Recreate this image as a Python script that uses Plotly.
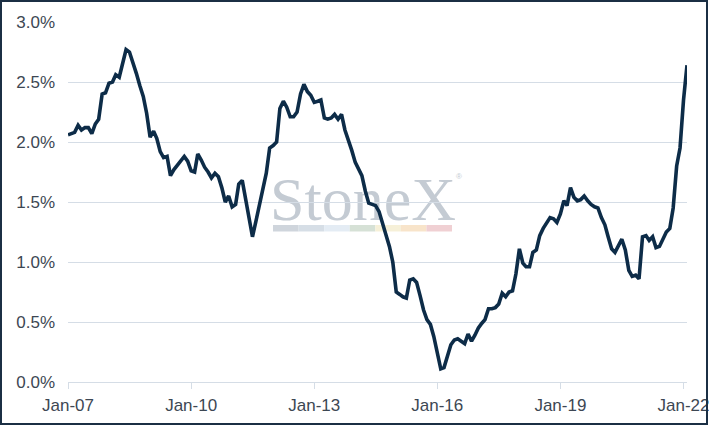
import pandas as pd
import plotly.graph_objects as go

# monthly values, Jan-07 .. Feb-22 (%)
v2007 = [2.06, 2.07, 2.08, 2.14, 2.10, 2.12, 2.12, 2.07, 2.15, 2.19, 2.40, 2.41]
v2008 = [2.49, 2.50, 2.56, 2.54, 2.66, 2.77, 2.75, 2.67, 2.57, 2.47, 2.38, 2.24]
v2009 = [2.04, 2.09, 2.03, 1.92, 1.87, 1.88, 1.72, 1.77, 1.81, 1.84, 1.88, 1.84]
v2010 = [1.76, 1.75, 1.90, 1.85, 1.79, 1.75, 1.70, 1.74, 1.71, 1.62, 1.50, 1.55]
v2011 = [1.46, 1.48, 1.65, 1.68, 1.52, 1.35, 1.21, 1.34, 1.48, 1.60, 1.74, 1.95]
v2012 = [1.97, 2.00, 2.28, 2.34, 2.29, 2.21, 2.21, 2.25, 2.40, 2.48, 2.42, 2.39]
v2013 = [2.33, 2.34, 2.35, 2.20, 2.19, 2.20, 2.23, 2.19, 2.23, 2.10, 2.02, 1.93]
v2014 = [1.83, 1.77, 1.72, 1.59, 1.49, 1.48, 1.47, 1.42, 1.32, 1.22, 1.13, 1.00]
v2015 = [0.75, 0.73, 0.71, 0.70, 0.85, 0.86, 0.83, 0.72, 0.60, 0.52, 0.48, 0.38]
v2016 = [0.25, 0.11, 0.12, 0.21, 0.31, 0.35, 0.36, 0.34, 0.32, 0.40, 0.34, 0.39]
v2017 = [0.45, 0.49, 0.52, 0.61, 0.61, 0.62, 0.65, 0.74, 0.71, 0.75, 0.76, 0.90]
v2018 = [1.11, 0.99, 0.96, 0.96, 1.08, 1.10, 1.22, 1.28, 1.33, 1.37, 1.36, 1.33]
v2019 = [1.40, 1.51, 1.47, 1.62, 1.54, 1.51, 1.52, 1.55, 1.51, 1.48, 1.46, 1.45]
v2020 = [1.37, 1.31, 1.21, 1.11, 1.08, 1.14, 1.19, 1.10, 0.93, 0.88, 0.89, 0.86]
v2021 = [1.21, 1.22, 1.18, 1.21, 1.12, 1.13, 1.19, 1.25, 1.28, 1.45, 1.80, 1.95]
v2022 = [2.35, 2.64]

values = (v2007 + v2008 + v2009 + v2010 + v2011 + v2012 + v2013 + v2014
          + v2015 + v2016 + v2017 + v2018 + v2019 + v2020 + v2021 + v2022)
dates = pd.date_range("2007-01-01", periods=len(values), freq="MS")
vals = [v / 100 for v in values]

tick_dates = ["2007-01-01", "2010-01-01", "2013-01-01", "2016-01-01", "2019-01-01", "2022-01-01"]
tick_text = ["Jan-07", "Jan-10", "Jan-13", "Jan-16", "Jan-19", "Jan-22"]

# watermark bar colours
bar_colors = ["#cfd5dc", "#d6dee6", "#e4ecf4", "#d6e1d6", "#f6f0d8", "#f8e4ca", "#f0d0d3"]

W, H = 709, 426
L, R, T, B = 68, 22, 22, 44
pw, ph = W - L - R, H - T - B


def px(p):
    return (p - L) / pw


def py(p):
    return (H - B - p) / ph


text_col = "#3d4753"
wm_col = "#c4cbd3"

fig = go.Figure()
fig.add_trace(go.Scatter(x=dates, y=vals, mode="lines",
                         line=dict(color="#0d2c48", width=3.6), hoverinfo="skip"))

shapes = []
# StoneX watermark
shapes.append(dict(type="rect", xref="paper", yref="paper", layer="below",
                   x0=px(270), x1=px(456), y0=py(216), y1=py(168),
                   line=dict(width=0), fillcolor="rgba(0,0,0,0)",
                   label=dict(text="StoneX", textposition="middle center",
                              font=dict(family="Liberation Serif", size=62, color=wm_col))))
seg = (452 - 273) / len(bar_colors)
for i, c in enumerate(bar_colors):
    shapes.append(dict(type="rect", xref="paper", yref="paper", layer="below",
                       x0=px(273 + i * seg), x1=px(273 + (i + 1) * seg),
                       y0=py(231.5), y1=py(225),
                       line=dict(width=0), fillcolor=c))
# outer frame
shapes.append(dict(type="rect", xref="paper", yref="paper",
                   x0=px(1), x1=px(707), y0=py(424), y1=py(1),
                   line=dict(color="#1b2f44", width=2)))

fig.update_layout(
    width=W, height=H,
    margin=dict(l=L, r=R, t=T, b=B, autoexpand=False),
    paper_bgcolor="white", plot_bgcolor="white",
    showlegend=False,
    font=dict(family="Liberation Sans, Arial", size=17, color=text_col),
    shapes=shapes,
    annotations=[dict(text="®", xref="paper", yref="paper", x=px(459), y=py(176),
                      showarrow=False, font=dict(size=8, color=wm_col))],
    xaxis=dict(
        type="date", range=["2007-01-01", "2022-02-01"],
        tickvals=tick_dates, ticktext=tick_text,
        showgrid=False, zeroline=False,
        showline=True, linecolor="#d5dde6", linewidth=1,
        ticks="outside", ticklen=6, tickcolor="#d5dde6",
        ticklabelstandoff=2, automargin=False,
        ticklabeloverflow="allow",
    ),
    yaxis=dict(
        range=[0, 0.03], dtick=0.005, tickformat=".1%",
        showgrid=True, gridcolor="#d5dde6", gridwidth=1,
        zeroline=False, showline=False, ticks="",
        ticklabelstandoff=12, automargin=False,
    ),
)

fig.write_html("out.html", config={"displayModeBar": False},
               post_script="document.body.style.margin='0';")
